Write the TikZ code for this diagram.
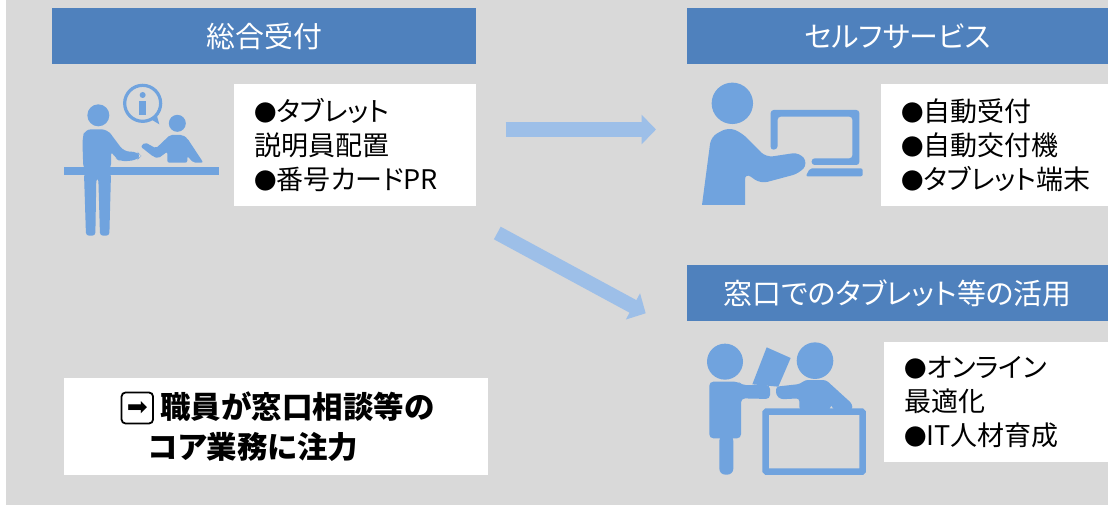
\documentclass[tikz,border=0pt]{standalone}
\usepackage{fontspec}
\usetikzlibrary{arrows.meta}
\setmainfont{Noto Sans CJK JP}[RawFeature=+palt]
\newfontfamily\symfont{DejaVu Sans}
\newcommand{\bul}{{\fontsize{22.5}{34}\selectfont ●}}
\definecolor{bggray}{HTML}{D9D9D9}
\definecolor{headblue}{HTML}{4F81BD}
\definecolor{iconblue}{HTML}{70A3DE}
\definecolor{arrowblue}{HTML}{9DBFE8}
\tikzset{
  headbox/.style={fill=headblue,text=white,inner sep=0pt,anchor=north west,minimum height=56pt,font=\fontsize{28.9}{32}\selectfont},
  listbox/.style={fill=white,text=black,anchor=north west,inner xsep=20pt,inner ysep=0pt,align=left,font=\fontsize{27}{34}\selectfont},
  icon/.style={fill=iconblue,draw=none},
  iconline/.style={draw=iconblue,fill=none},
  blockarrow/.style={draw=arrowblue,-{Triangle[length=14.5pt,width=29pt]}},
}
\begin{document}
\begin{tikzpicture}[x=1pt,y=-1pt]
\useasboundingbox (0,0) rectangle (1108,505);
\fill[white] (0,0) rectangle (1108,505);
\fill[bggray] (6,0) rectangle (1108,505);

\node[headbox,minimum width=424pt] (h1) at (52,8) {総合受付};
\node[headbox,minimum width=421pt] (h2) at (687,8) {セルフサービス};
\node[headbox,minimum width=421pt] (h3) at (687,265) {窓口でのタブレット等の活用};

\node[listbox,text width=202pt,minimum height=122pt] (l1) at (234,84) {\bul タブレット\\説明員配置\\\bul 番号カードPR};
\node[listbox,text width=187pt,minimum height=122pt] (l2) at (881,84) {\bul 自動受付\\\bul 自動交付機\\\bul タブレット端末};
\node[listbox,text width=184pt,minimum height=120pt] (l3) at (884,342) {\bul オンライン\\最適化\\\bul IT人材育成};
\node[fill=white,text=black,anchor=north west,inner xsep=0pt,inner ysep=0pt,text width=424pt,minimum height=97pt,align=left,
  font=\fontsize{30.5}{40}\selectfont\bfseries] (l4) at (64,378) {\hspace*{96pt}職員が窓口相談等の\\\hspace*{84pt}コア業務に注力};
\node[draw=black,line width=1.8pt,rounded corners=4pt,minimum width=31.5pt,minimum height=31pt,inner sep=0pt,font=\fontsize{25}{26}\selectfont\symfont] (goicon) at (137.3,408) {➡};

% block arrows
\coordinate (a1s) at (505.7,129.5);
\coordinate (a1e) at (656,129.5);
\coordinate (a2s) at (497.3,233);
\coordinate (a2e) at (645.7,313.3);
\draw[blockarrow,line width=15pt] (a1s) -- (a1e);
\draw[blockarrow,line width=14.3pt] (a2s) -- (a2e);

% icon 1
\begin{scope}[shift={(50,70)},x=1/3*1pt,y=-1/3*1pt]
  \fill[icon] (42,290) rectangle (507,315);
  \fill[icon] (145,136) circle[radius=11pt];
  \fill[icon,rounded corners=6pt] (100,300) -- (97,205) -- (105,178) -- (172,178) -- (222,245) -- (262,245) -- (274,258) -- (262,270) -- (212,275) -- (195,264) -- (183,240) -- (183,300) -- cycle;
  \fill[icon,rounded corners=3pt] (102,310) -- (108,497) -- (136,497) -- (139,325) -- (145,325) -- (150,497) -- (178,497) -- (183,310) -- cycle;
  \fill[icon] (382,160) circle[radius=8.5pt];
  \fill[icon,rounded corners=2pt] (460,278) -- (412,205) -- (398,195) -- (360,195) -- (318,235) -- (285,217) -- (272,230) -- (310,260) -- (325,265) -- (352,245) -- (352,278) -- (412,278) -- (412,258) -- (430,278) -- cycle;
  \draw[iconline,line width=3.2pt] (278,100) circle[radius=18pt];
  \fill[icon] (303,148) -- (328,163) -- (320,135) -- cycle;
  \fill[icon] (278,75) circle[radius=3pt];
  \fill[icon] (268,92) rectangle (288,135);
\end{scope}

% icon 2
\begin{scope}[shift={(690,70)},x=1/3*1pt,y=-1/3*1pt]
  \fill[icon] (127,100) circle[radius=20.7pt];
  \fill[icon] (36,405) [rounded corners=7pt] -- (63,200) -- (115,172) -- (155,188) -- (228,262) -- (328,247) -- (354,280) -- (328,310) -- (212,341) -- (165,308) [sharp corners] -- (165,405) -- cycle;
  \fill[icon,rounded corners=3pt] (242,240) -- (242,120) -- (508,120) -- (508,285) -- (365,285) -- (365,265) -- (487,265) -- (487,140) -- (263,140) -- (263,237) -- cycle;
  \fill[icon,rounded corners=2pt] (360,295) -- (518,295) -- (518,319) -- (347,319) -- cycle;
\end{scope}

% icon 3
\begin{scope}[shift={(690,330)},x=1/3*1pt,y=-1/3*1pt]
  \fill[icon] (105,95) circle[radius=18pt];
  \fill[icon] (375,92) circle[radius=18.3pt];
  \fill[icon,rounded corners=4pt] (58,155) -- (145,155) -- (155,165) -- (240,165) -- (240,207) -- (153,205) -- (153,325) -- (58,325) -- cycle;
  \fill[icon,rounded corners=6pt] (88,315) -- (130,315) -- (130,434) -- (88,434) -- cycle;
  \fill[icon] (230,52) -- (302,84) -- (265,170) -- (187,163) -- cycle;
  \fill[icon,rounded corners=3pt] (258,170) -- (330,162) -- (345,150) -- (408,150) -- (487,222) -- (487,240) -- (430,240) -- (423,222) -- (420,240) -- (328,240) -- (328,205) -- (272,208) -- (258,195) -- cycle;
  \draw[iconline,line width=6.6pt,rounded corners=1pt] (227,245) rectangle (518,425);
\end{scope}
\end{tikzpicture}
\end{document}
